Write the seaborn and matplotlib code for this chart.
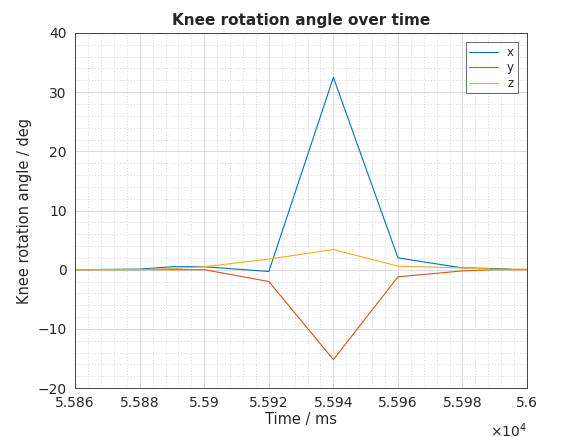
import matplotlib
matplotlib.use("Agg")
import matplotlib.pyplot as plt
import seaborn as sns
import pandas as pd
from matplotlib.ticker import FuncFormatter, MultipleLocator

t_ms = [55860, 55880, 55890, 55900, 55920, 55940, 55960, 55980, 55990, 55995, 56000]
x_deg = [0.0, 0.1, 0.5, 0.5, -0.3, 32.5, 2.0, 0.3, 0.2, 0.1, None]
y_deg = [0.0, 0.0, 0.0, 0.0, -2.0, -15.2, -1.2, -0.2, 0.0, 0.0, 0.0]
z_deg = [0.0, 0.0, 0.2, 0.5, 1.8, 3.4, 0.6, 0.3, 0.1, 0.1, 0.1]

sns.set_style("white")
plt.rcParams['font.family'] = ['DejaVu Sans']
fig = plt.figure(figsize=(5.83, 4.37), dpi=100)
ax = fig.add_axes([0.129, 0.112, 0.775, 0.8125])

df = pd.DataFrame({"t": t_ms, "x": x_deg, "y": y_deg, "z": z_deg})
for col, c in [("x", "#0072BD"), ("y", "#D95319"), ("z", "#EDB120")]:
    d = df.dropna(subset=[col])
    sns.lineplot(data=d, x="t", y=col, ax=ax, color=c, lw=0.8, label=col)

ax.set_xlim(55860, 56000)
ax.set_ylim(-20, 40)
ax.xaxis.set_major_locator(MultipleLocator(20))
ax.xaxis.set_minor_locator(MultipleLocator(4))
ax.yaxis.set_major_locator(MultipleLocator(10))
ax.yaxis.set_minor_locator(MultipleLocator(2))
ax.xaxis.set_major_formatter(FuncFormatter(lambda v, p: ("%.4f" % (v / 1e4)).rstrip("0").rstrip(".")))
ax.grid(which="major", color="#d4d4d4", lw=0.6)
ax.grid(which="minor", color="#b8b8b8", lw=0.5, ls=(0, (1, 3)))
ax.tick_params(which="both", direction="in", labelsize=10, colors="#262626")
ax.tick_params(which="major", length=4)
ax.tick_params(which="minor", length=2)
ax.tick_params(axis="x", pad=6)
ax.tick_params(axis="y", pad=6)
for s in ax.spines.values():
    s.set_color("#262626"); s.set_linewidth(0.6)
ax.set_title("Knee rotation angle over time", fontsize=11, fontweight="bold")
ax.set_xlabel("Time / ms", fontsize=10.5, labelpad=1)
ax.set_ylabel("Knee rotation angle / deg", fontsize=10.5)
ax.text(1.0, -0.095, r"$\times10^4$", transform=ax.transAxes, ha="right", va="top", fontsize=10)
leg = ax.legend(loc="upper right", fontsize=8.5, frameon=True, fancybox=False,
                handlelength=2.4, borderaxespad=0.8, labelspacing=0.2, borderpad=0.3)
leg.get_frame().set_edgecolor("#262626"); leg.get_frame().set_linewidth(0.6)
fig.savefig("out.png", dpi=100)
